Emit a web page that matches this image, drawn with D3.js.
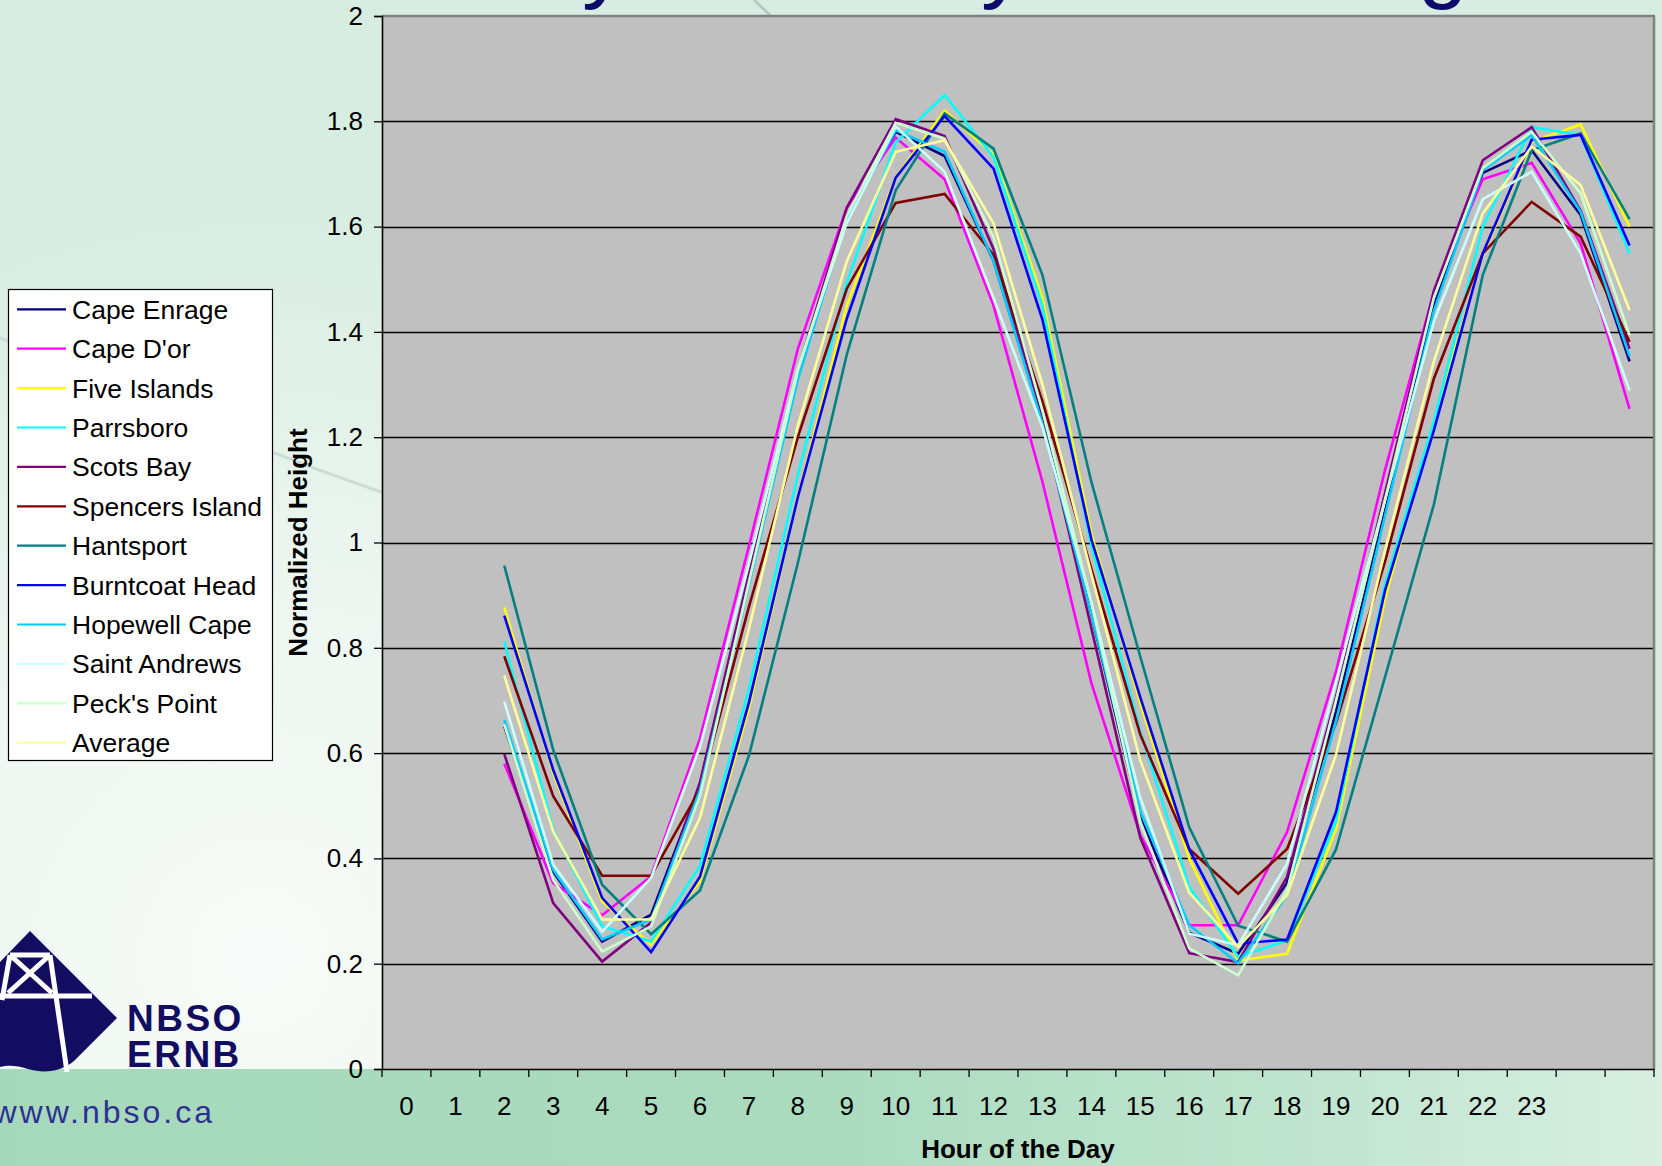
<!DOCTYPE html>
<html><head><meta charset="utf-8">
<script src="https://cdn.jsdelivr.net/npm/d3@7"></script>
<style>html,body{margin:0;padding:0;overflow:hidden;background:#dcefe4}</style>
</head><body><svg id="chart" width="1662" height="1166"></svg>
<script>
// ---------- data ----------
const hourLabels = ["0","1","2","3","4","5","6","7","8","9","10","11","12","13","14","15","16","17","18","19","20","21","22","23"];
const xSlots = [0,1,2,3,4,5,6,7,8,9,10,11,12,13,14,15,16,17,18,19,20,21,22,23,24,25];
const dataSlots = [2,3,4,5,6,7,8,9,10,11,12,13,14,15,16,17,18,19,20,21,22,23,24,25];
const yTicks = [0,0.2,0.4,0.6,0.8,1,1.2,1.4,1.6,1.8,2];
const seriesNames = ["Cape Enrage","Cape D'or","Five Islands","Parrsboro","Scots Bay","Spencers Island","Hantsport","Burntcoat Head","Hopewell Cape","Saint Andrews","Peck's Point","Average"];
const seriesColors = ["#000080","#ff00ff","#ffff00","#00ffff","#800080","#800000","#008080","#0000ff","#00ccff","#ccffff","#ccffcc","#ffff99"];

const capeEnrage    = [0.651,0.375,0.242,0.293,0.540,0.930,1.320,1.620,1.780,1.734,1.535,1.230,0.864,0.477,0.259,0.219,0.354,0.679,1.061,1.450,1.702,1.745,1.622,1.344];
const capeDor       = [0.580,0.353,0.292,0.366,0.628,0.993,1.368,1.636,1.769,1.690,1.450,1.115,0.733,0.444,0.273,0.273,0.450,0.755,1.137,1.475,1.690,1.721,1.568,1.254];
const fiveIslands   = [0.877,0.562,0.318,0.236,0.357,0.685,1.086,1.450,1.694,1.820,1.737,1.464,1.017,0.695,0.400,0.206,0.219,0.455,0.892,1.230,1.545,1.761,1.794,1.600];
const parrsboro     = [0.812,0.454,0.271,0.242,0.386,0.722,1.128,1.493,1.760,1.850,1.732,1.450,0.995,0.641,0.346,0.213,0.244,0.470,0.920,1.230,1.600,1.789,1.774,1.549];
const scotsBay      = [0.598,0.315,0.204,0.278,0.545,0.940,1.326,1.636,1.804,1.772,1.557,1.235,0.837,0.439,0.220,0.203,0.365,0.706,1.093,1.478,1.726,1.789,1.630,1.368];
const spencersIsland= [0.784,0.518,0.367,0.367,0.531,0.878,1.200,1.482,1.645,1.662,1.546,1.268,0.950,0.635,0.418,0.333,0.418,0.657,0.963,1.311,1.549,1.647,1.581,1.381];
const hantsport     = [0.956,0.606,0.350,0.256,0.339,0.595,0.961,1.357,1.669,1.815,1.748,1.508,1.115,0.783,0.459,0.272,0.242,0.417,0.744,1.072,1.508,1.745,1.777,1.614];
const burntcoatHead = [0.861,0.568,0.325,0.222,0.365,0.696,1.086,1.425,1.693,1.810,1.710,1.423,1.006,0.706,0.417,0.238,0.246,0.488,0.908,1.213,1.549,1.765,1.774,1.564];
const hopewellCape  = [0.663,0.378,0.246,0.284,0.530,0.920,1.310,1.615,1.783,1.742,1.535,1.225,0.864,0.490,0.273,0.201,0.330,0.660,1.050,1.440,1.707,1.774,1.628,1.354];
const saintAndrews  = [0.698,0.388,0.261,0.363,0.612,0.960,1.330,1.607,1.790,1.704,1.464,1.219,0.886,0.515,0.257,0.235,0.390,0.735,1.080,1.420,1.652,1.704,1.549,1.289];
const pecksPoint    = [0.654,0.359,0.223,0.271,0.519,0.925,1.326,1.620,1.797,1.767,1.580,1.250,0.886,0.470,0.229,0.178,0.340,0.700,1.080,1.465,1.711,1.780,1.663,1.394];
const average       = [0.747,0.451,0.284,0.284,0.477,0.836,1.222,1.534,1.742,1.764,1.606,1.300,0.940,0.586,0.335,0.232,0.330,0.597,0.984,1.344,1.625,1.752,1.679,1.441];
const seriesValues = [capeEnrage,capeDor,fiveIslands,parrsboro,scotsBay,spencersIsland,hantsport,burntcoatHead,hopewellCape,saintAndrews,pecksPoint,average];

const titleText = "Daily Tidal Cycle Averages";

// ---------- layout ----------
const W = 1662, H = 1166;
const plot = {left: 382, right: 1654, top: 16, bottom: 1069};
const FONT = "'Liberation Sans', Arial, sans-serif";
const svg = d3.select("#chart");
const defs = svg.append("defs");

// background
const rg = defs.append("radialGradient").attr("id","bgGlow")
  .attr("gradientUnits","userSpaceOnUse").attr("cx",260).attr("cy",960).attr("r",760);
rg.append("stop").attr("offset","0").attr("stop-color","#f8fbf9");
rg.append("stop").attr("offset","0.45").attr("stop-color","#eef7f1");
rg.append("stop").attr("offset","1").attr("stop-color","#d8ede1");
svg.append("rect").attr("width",W).attr("height",H).attr("fill","url(#bgGlow)");

const bandGrad = defs.append("linearGradient").attr("id","band").attr("x1","0").attr("x2","1").attr("y1","0").attr("y2","0");
bandGrad.append("stop").attr("offset","0").attr("stop-color","#a6d9bb");
bandGrad.append("stop").attr("offset","0.5").attr("stop-color","#abdbbf");
bandGrad.append("stop").attr("offset","0.8").attr("stop-color","#c1e5d0");
bandGrad.append("stop").attr("offset","1").attr("stop-color","#d8efe2");
svg.append("rect").attr("x",0).attr("y",plot.bottom).attr("width",W).attr("height",H-plot.bottom).attr("fill","url(#band)");

// faint decorative swooshes
svg.append("path").attr("d","M0,338 C90,372 200,430 381,492").attr("fill","none")
  .attr("stroke","#c4d6d2").attr("stroke-width",3).attr("opacity",0.8);
svg.append("path").attr("d","M754,0 L772,17").attr("fill","none")
  .attr("stroke","#b8c8c6").attr("stroke-width",3);

// title (mostly above the visible area) – fitted so its descenders fall where they show
const title = svg.append("text").attr("font-family",FONT).attr("font-size",100)
  .attr("fill","#0c0b6a").text(titleText);
(function placeTitle(){
  const node = title.node();
  const i1 = titleText.indexOf("y"), i2 = titleText.indexOf("y", i1+1), i3 = titleText.indexOf("g", i2+1);
  const a = node.getSubStringLength(0,i2) - node.getSubStringLength(0,i1);
  const b = node.getSubStringLength(0,i3) - node.getSubStringLength(0,i2);
  const s1 = titleText.slice(i1,i2).split(" ").length-1;
  const s2 = titleText.slice(i2,i3).split(" ").length-1;
  const D1 = 399, D2 = 437;
  // a/100*fs + s1*ws = D1 ; b/100*fs + s2*ws = D2
  const A = a/100, B = b/100;
  const fs = (D1*s2 - D2*s1)/(A*s2 - B*s1);
  const ws = (D1 - A*fs)/s1;
  title.attr("font-size",fs).attr("word-spacing",ws);
  const q1 = node.getSubStringLength(0,i1);
  title.attr("x", 582 - q1).attr("y", 10 - 0.21*fs);
})();

// scales
const x = d3.scaleBand().domain(xSlots).range([plot.left, plot.right]).padding(0);
const y = d3.scaleLinear().domain([0,2]).range([plot.bottom, plot.top]);

// plot area
svg.append("rect").attr("x",plot.left).attr("y",plot.top).attr("width",plot.right-plot.left)
  .attr("height",plot.bottom-plot.top).attr("fill","#c0c0c0");

// gridlines
svg.append("g").selectAll("line").data(yTicks.filter(v=>v>0 && v<2)).join("line")
  .attr("x1",plot.left).attr("x2",plot.right)
  .attr("y1",d=>Math.round(y(d))+0.5).attr("y2",d=>Math.round(y(d))+0.5)
  .attr("stroke","#000").attr("stroke-width",1.3);

// frame top/right
svg.append("line").attr("x1",plot.left).attr("x2",plot.right+1).attr("y1",plot.top).attr("y2",plot.top)
  .attr("stroke","#808080").attr("stroke-width",2.5);
svg.append("line").attr("x1",plot.right).attr("x2",plot.right).attr("y1",plot.top).attr("y2",plot.bottom)
  .attr("stroke","#808080").attr("stroke-width",2.5);

// y axis
const yAxis = svg.append("g").attr("transform",`translate(${plot.left},0)`)
  .call(d3.axisLeft(y).tickValues(yTicks).tickSize(8).tickPadding(11).tickFormat(d3.format("~g")));
yAxis.select(".domain").attr("stroke","#000").attr("stroke-width",1.6);
yAxis.selectAll(".tick line").attr("stroke","#000").attr("stroke-width",1.3);
yAxis.selectAll(".tick text").attr("font-family",FONT).attr("font-size",26).attr("fill","#000");

// x axis
const xAxis = svg.append("g").attr("transform",`translate(0,${plot.bottom})`)
  .call(d3.axisBottom(x).tickSize(0).tickPadding(28).tickFormat(d => d < hourLabels.length ? hourLabels[d] : ""));
xAxis.select(".domain").attr("stroke","#000").attr("stroke-width",1.6);
xAxis.selectAll(".tick text").attr("font-family",FONT).attr("font-size",26).attr("fill","#000");
// category boundary ticks
svg.append("g").selectAll("line").data(xSlots.concat([xSlots.length])).join("line")
  .attr("x1",d=> d < xSlots.length ? x(d) : x(xSlots[xSlots.length-1]) + x.bandwidth())
  .attr("x2",d=> d < xSlots.length ? x(d) : x(xSlots[xSlots.length-1]) + x.bandwidth())
  .attr("y1",plot.bottom).attr("y2",plot.bottom+8)
  .attr("stroke","#000").attr("stroke-width",1.3);

// series lines
const line = d3.line()
  .x((d,i) => x(dataSlots[i]) + x.bandwidth()/2)
  .y(d => y(d));
svg.append("g").selectAll("path").data(seriesValues).join("path")
  .attr("d", d => line(d))
  .attr("fill","none")
  .attr("stroke",(d,i)=>seriesColors[i])
  .attr("stroke-width",2.6)
  .attr("stroke-linejoin","miter");

// axis titles
svg.append("text").attr("transform",`translate(307,${(plot.top+plot.bottom)/2}) rotate(-90)`)
  .attr("text-anchor","middle").attr("font-family",FONT).attr("font-size",26).attr("font-weight","bold")
  .attr("fill","#000").text("Normalized Height");
svg.append("text").attr("x",(plot.left+plot.right)/2).attr("y",1158)
  .attr("text-anchor","middle").attr("font-family",FONT).attr("font-size",26).attr("font-weight","bold")
  .attr("fill","#000").text("Hour of the Day");

// legend
const lg = svg.append("g");
lg.append("rect").attr("x",8.5).attr("y",289.5).attr("width",264).attr("height",471)
  .attr("fill","#fff").attr("stroke","#000").attr("stroke-width",1.2);
const rows = lg.selectAll("g.row").data(seriesNames).join("g").attr("class","row")
  .attr("transform",(d,i)=>`translate(0,${309.3 + i*39.4})`);
rows.append("line").attr("x1",17).attr("x2",66).attr("y1",0).attr("y2",0)
  .attr("stroke",(d,i)=>seriesColors[i]).attr("stroke-width",2.2);
rows.append("text").attr("x",72).attr("y",9.5).attr("font-family",FONT).attr("font-size",26.5)
  .attr("fill","#000").text(d=>d);

// logo
const logo = svg.append("g");
logo.append("path")
  .attr("d","M0,962 L30,931 L117,1018 L74,1061 C62,1071 45,1074 28,1069 C16,1065 8,1065 0,1067 Z")
  .attr("fill","#120d60");
const white = [[10,955,50,955],[10,955,52,993],[50,955,8,993],[0,996,92,996],[50,955,67,1072],[10,955,2,1000]];
logo.selectAll("line").data(white).join("line")
  .attr("x1",d=>d[0]).attr("y1",d=>d[1]).attr("x2",d=>d[2]).attr("y2",d=>d[3])
  .attr("stroke","#ffffff").attr("stroke-width",5);
logo.append("text").attr("x",127).attr("y",1031).attr("font-family",FONT).attr("font-weight","bold")
  .attr("font-size",37).attr("fill","#120d60").attr("letter-spacing",2.5).text("NBSO");
logo.append("text").attr("x",127).attr("y",1067).attr("font-family",FONT).attr("font-weight","bold")
  .attr("font-size",37).attr("fill","#120d60").attr("letter-spacing",2.5).text("ERNB");
svg.append("text").attr("x",215).attr("y",1123).attr("text-anchor","end").attr("font-family",FONT)
  .attr("font-size",32).attr("letter-spacing",3).attr("fill","#2e3192").text("www.nbso.ca");
</script>
</body></html>
